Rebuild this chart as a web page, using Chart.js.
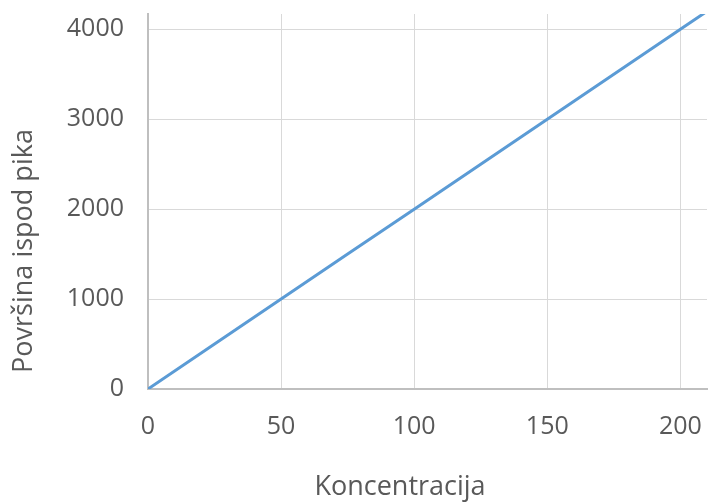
<!DOCTYPE html>
<html><head><meta charset="utf-8">
<script src="https://cdn.jsdelivr.net/npm/chart.js@4/dist/chart.umd.min.js"></script>
<style>html,body{margin:0;padding:0;background:#fff}#wrap{width:708px;height:503px}</style>
</head><body><div id="wrap"><canvas id="c" width="708" height="503"></canvas></div>
<script>
const concentrations = [0, 25, 50, 75, 100, 125, 150, 175, 200, 210];
const peakAreas = [0, 500, 1000, 1500, 2000, 2500, 3000, 3500, 4000, 4200];
const xTicks = [0, 50, 100, 150, 200];
const yTicks = [0, 1000, 2000, 3000, 4000];
const xTitle = 'Koncentracija';
const yTitle = 'Površina ispod pika';

const points = concentrations.map((x, i) => ({x: x, y: peakAreas[i]}));
const tickFont = {family: "'Open Sans', sans-serif", size: 25};
const titleFontCss = "27px 'Open Sans', sans-serif";
const noPad = s => { s.paddingTop = 0; s.paddingBottom = 0; s.paddingLeft = 0; s.paddingRight = 0; };

const axisTitles = {
  id: 'axisTitles',
  afterDraw(chart) {
    const ctx = chart.ctx;
    ctx.save();
    ctx.fillStyle = '#595959';
    ctx.font = titleFontCss;
    ctx.textAlign = 'center';
    ctx.textBaseline = 'alphabetic';
    ctx.fillText(xTitle, 400, 495);
    ctx.translate(32, 251);
    ctx.rotate(-Math.PI / 2);
    ctx.fillText(yTitle, 0, 0);
    ctx.restore();
  }
};

new Chart(document.getElementById('c'), {
  type: 'scatter',
  data: {datasets: [{data: points, showLine: true, borderColor: '#5b9bd5', borderWidth: 3, pointRadius: 0, tension: 0}]},
  options: {
    responsive: false, animation: false,
    layout: {padding: {top: 14, right: 1, left: 0, bottom: 0}},
    plugins: {legend: {display: false}, tooltip: {enabled: false}},
    scales: {
      x: {
        type: 'linear', min: 0, max: 210,
        afterBuildTicks: s => { s.ticks = xTicks.map(v => ({value: v})); },
        afterFit: s => { s.height = 114; noPad(s); },
        grid: {color: '#d9d9d9', lineWidth: 1, drawTicks: false},
        border: {color: '#bfbfbf', width: 2},
        ticks: {color: '#595959', font: tickFont, padding: 23, maxRotation: 0, callback: v => String(v)},
        title: {display: false}
      },
      y: {
        min: 0, max: 4170,
        afterBuildTicks: s => { s.ticks = yTicks.map(v => ({value: v})); },
        afterFit: s => { s.width = 148; noPad(s); },
        grid: {color: '#d9d9d9', lineWidth: 1, drawTicks: false},
        border: {color: '#bfbfbf', width: 2},
        ticks: {color: '#595959', font: tickFont, padding: 24, callback: v => String(v)},
        title: {display: false}
      }
    }
  },
  plugins: [axisTitles]
});
</script></body></html>
